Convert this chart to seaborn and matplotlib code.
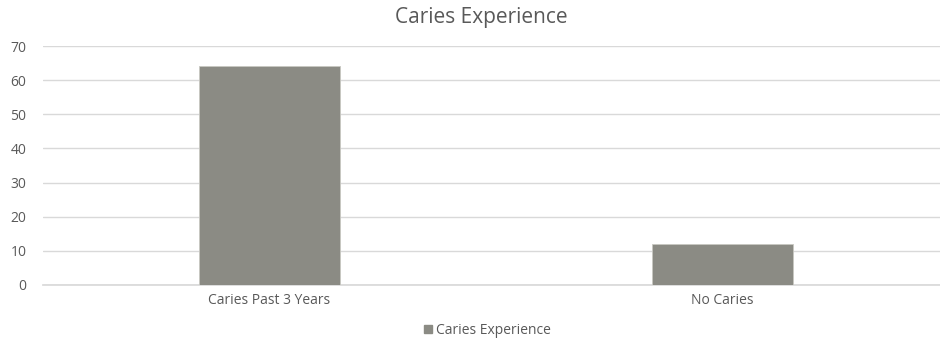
import matplotlib
matplotlib.use("Agg")
import matplotlib.pyplot as plt
import seaborn as sns
import pandas as pd
from matplotlib.lines import Line2D

categories = ["Caries Past 3 Years", "No Caries"]
values = [64, 12]
series_name = "Caries Experience"
y_ticks = [0, 10, 20, 30, 40, 50, 60, 70]

df = pd.DataFrame({"category": categories, "value": values})

sns.set_theme(style="white")
plt.rcParams["font.family"] = ["Open Sans", "DejaVu Sans"]

bar_color = "#8b8b84"
text_color = "#595959"
grid_color = "#d9d9d9"

fig = plt.figure(figsize=(9.4, 3.47), dpi=100)
ax = fig.add_axes([43 / 940, 62 / 347, 906 / 940, 239 / 347])

sns.barplot(data=df, x="category", y="value", color=bar_color, width=0.313,
            saturation=1, ax=ax, zorder=3, edgecolor="#c8c8c2", linewidth=0.6)

ax.set_ylim(0, 70)
ax.set_xlim(-0.5, 1.5)
ax.set_yticks(y_ticks)
ax.yaxis.grid(True, color=grid_color, linewidth=1.0, zorder=0)
ax.set_axisbelow(True)
for s in ax.spines.values():
    s.set_visible(False)
ax.spines["bottom"].set_visible(True)
ax.spines["bottom"].set_color(grid_color)
ax.tick_params(axis="both", length=0, labelsize=10, labelcolor=text_color, pad=6)
ax.tick_params(axis="y", pad=12)
ax.set_xlabel("")
ax.set_ylabel("")

fig.text(481 / 940, 1 - 17 / 347, series_name, ha="center", va="center",
         fontsize=15, color=text_color)

handle = Line2D([], [], marker="s", linestyle="none", markersize=5.5,
                markerfacecolor=bar_color, markeredgecolor=bar_color)
fig.legend([handle], [series_name], loc="center", bbox_to_anchor=(486 / 940, 1 - 330 / 347),
           frameon=False, fontsize=10, labelcolor=text_color, handletextpad=0.1,
           handlelength=1.0, borderpad=0)

fig.savefig("out.png", dpi=100)
